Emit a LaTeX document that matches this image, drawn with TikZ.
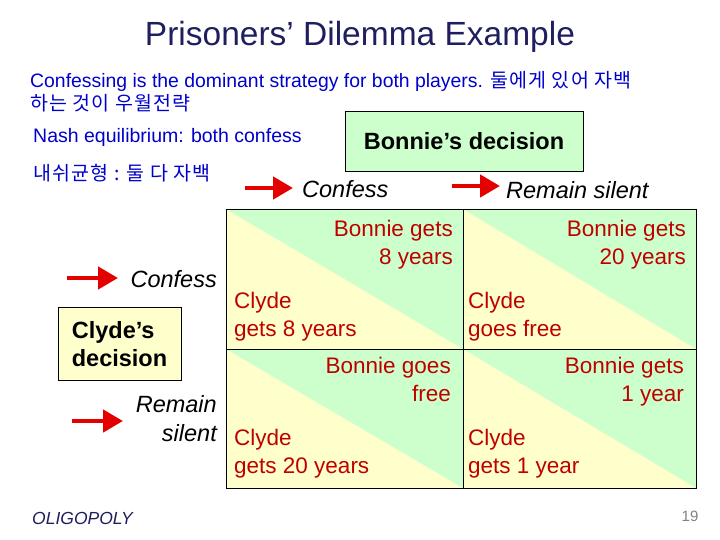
\documentclass[tikz,border=0pt]{standalone}
\usepackage{fontspec}
\setmainfont{Liberation Sans}
\newfontfamily\kr[LetterSpace=6]{Noto Sans CJK KR}
\usetikzlibrary{arrows.meta}
\definecolor{ttl}{HTML}{1F1F5F}
\definecolor{blu}{HTML}{0000CC}
\definecolor{cred}{HTML}{C00000}
\definecolor{gr}{HTML}{CCFFCC}
\definecolor{yl}{HTML}{FFFFCC}
\begin{document}
\begin{tikzpicture}[x=1pt,y=-1pt,
  cell/.style={font=\fontsize{22.5}{27.5}\selectfont,text=cred,inner sep=0pt},
  lab/.style={font=\fontsize{23.5}{29}\selectfont\itshape,inner sep=0pt},
  arr/.style={red!90!black,line width=4.5pt,-{Triangle[length=20pt,width=22pt]}},
  box/.style={draw=black,font=\fontsize{23.5}{28}\selectfont\bfseries,align=left}]
\useasboundingbox (0,0) rectangle (720,540);
\node[text=ttl,font=\fontsize{33.5}{38}\selectfont] (title) at (360,37) {Prisoners’ Dilemma Example};
\node[anchor=north west,text=blu,font=\fontsize{19.4}{23}\selectfont,align=left,inner sep=0pt] (t1) at (30,71)
  {Confessing is the dominant strategy for both players. {\kr\fontsize{19.5}{23}\selectfont 둘에게 있어 자백}\\{\kr\fontsize{19.5}{23}\selectfont 하는 것이 우월전략}};
\node[anchor=west,text=blu,font=\fontsize{19.5}{22}\selectfont,inner sep=0pt] (t2) at (33,137) {Nash equilibrium: both confess};
\node[anchor=west,text=blu,font=\kr\fontsize{19.5}{22}\selectfont,inner sep=0pt] (t3) at (33,173) {내쉬균형 : 둘 다 자백};
\node[box,fill=gr,minimum width=238pt,minimum height=60pt,align=center] (bd) at (464,141) {Bonnie’s decision};
\node[box,fill=yl,minimum width=123pt,minimum height=73pt,inner sep=7pt,font=\fontsize{23.5}{28}\selectfont\bfseries] (cd) at (119.5,344) {Clyde’s\\decision};
% cells
\foreach \xa/\ya/\xb/\yb/\n in {226/209/463/349/a,463/209/696/349/b,226/349/463/488/c,463/349/696/488/d}{
  \fill[yl] (\xa,\ya) rectangle (\xb,\yb);
  \fill[gr] (\xa,\ya) -- (\xb,\ya) -- (\xb,\yb) -- cycle;
  \node[draw,minimum width={\xb-\xa},minimum height={\yb-\ya},inner sep=0pt] (cell\n) at ({(\xa+\xb)/2},{(\ya+\yb)/2}) {};
}
\node[cell,anchor=north east,align=right] (b1) at (453,220) {Bonnie gets\\8 years};
\node[cell,anchor=north east,align=right] (b2) at (686,220) {Bonnie gets\\20 years};
\node[cell,anchor=north east,align=right] (b3) at (451,357) {Bonnie goes\\free};
\node[cell,anchor=north east,align=right] (b4) at (684,357) {Bonnie gets\\1 year};
\node[cell,anchor=north west,align=left] (c1) at (234,292) {Clyde\\gets 8 years};
\node[cell,anchor=north west,align=left] (c2) at (468,292) {Clyde\\goes free};
\node[cell,anchor=north west,align=left] (c3) at (234,429) {Clyde\\gets 20 years};
\node[cell,anchor=north west,align=left] (c4) at (468,429) {Clyde\\gets 1 year};
% labels
\node[lab,anchor=west] (lc) at (302,189) {Confess};
\node[lab,anchor=west] (lr) at (506,190) {Remain silent};
\node[lab,anchor=east] (rc) at (217,279) {Confess};
\node[lab,anchor=east,align=right] (rr) at (217,419) {Remain\\silent};
\coordinate (a1s) at (245,188); \coordinate (a1e) at (293,188);
\coordinate (a2s) at (452,186); \coordinate (a2e) at (500,186);
\coordinate (a3s) at (67,278); \coordinate (a3e) at (118,278);
\coordinate (a4s) at (72,421); \coordinate (a4e) at (123,421);
\draw[arr] (a1s) -- (a1e);
\draw[arr] (a2s) -- (a2e);
\draw[arr] (a3s) -- (a3e);
\draw[arr] (a4s) -- (a4e);
\node[anchor=west,font=\fontsize{17.5}{20}\selectfont\itshape,text=ttl,inner sep=0pt] (olig) at (32,518) {OLIGOPOLY};
\node[font=\fontsize{15}{17}\selectfont,text=gray,inner sep=0pt] (pg) at (690,516) {19};
\end{tikzpicture}
\end{document}
